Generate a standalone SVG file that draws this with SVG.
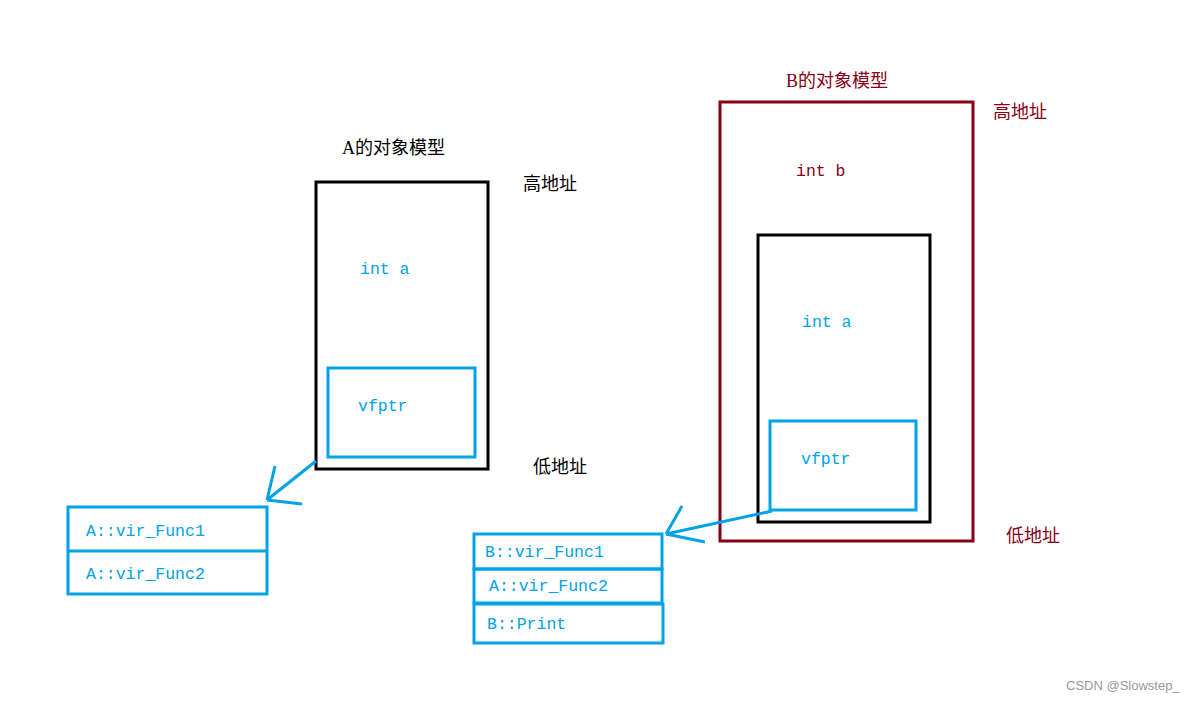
<svg xmlns="http://www.w3.org/2000/svg" width="1204" height="701" viewBox="0 0 1204 701">
<style>
.k{fill:none;stroke:#000;stroke-width:3}
.b{fill:none;stroke:#00a2e8;stroke-width:3}
.r{fill:none;stroke:#880015;stroke-width:3}
.c{font-family:"Liberation Mono",monospace;font-size:16.5px;fill:#00a2e8}
.z{font-family:"Liberation Serif","Noto Sans CJK SC",serif;font-size:18px;fill:#000}
.zr{fill:#880015}
</style>
<rect width="1204" height="701" fill="#fff"/>
<g id="A-object">
<rect class="k" x="316" y="182" width="172" height="287"/>
<text class="z" x="342" y="154">A的对象模型</text>
<text class="z" x="523" y="190">高地址</text>
<text class="z" x="533" y="473">低地址</text>
<text class="c" x="360" y="274">int a</text>
</g>
<g id="A-vfptr">
<rect class="b" x="328" y="368" width="147" height="89"/>
<text class="c" x="358" y="411">vfptr</text>
</g>
<g id="A-vtable">
<rect class="b" x="68" y="507" width="199" height="87"/>
<line class="b" x1="68" y1="551" x2="268" y2="551"/>
<text class="c" x="86" y="536">A::vir_Func1</text>
<text class="c" x="86" y="579">A::vir_Func2</text>
</g>
<g id="B-object">
<rect class="r" x="720" y="102" width="253" height="439"/>
<text class="z zr" x="786" y="87">B的对象模型</text>
<text class="z zr" x="993" y="118">高地址</text>
<text class="z zr" x="1006" y="542">低地址</text>
<text class="c" style="fill:#880015" x="796" y="176">int b</text>
</g>
<g id="B-A-subobject">
<rect class="k" x="758" y="235" width="172" height="287"/>
<text class="c" x="802" y="327">int a</text>
</g>
<g id="B-vfptr">
<rect class="b" x="770" y="421" width="146" height="89"/>
<text class="c" x="801" y="464">vfptr</text>
</g>
<g id="B-vtable">
<rect class="b" x="474" y="534" width="188" height="35"/>
<rect class="b" x="474" y="569" width="188" height="34"/>
<rect class="b" x="474" y="604" width="189" height="39"/>
<text class="c" x="485" y="557">B::vir_Func1</text>
<text class="c" x="489" y="591">A::vir_Func2</text>
<text class="c" x="487" y="629">B::Print</text>
</g>
<g id="connectors">
<line class="b" x1="316" y1="461" x2="267" y2="500"/>
<line class="b" x1="267" y1="500" x2="275" y2="466"/>
<line class="b" x1="267" y1="500" x2="302" y2="504"/>
<line class="b" x1="772" y1="511" x2="666" y2="534"/>
<line class="b" x1="666" y1="534" x2="682" y2="506"/>
<line class="b" x1="666" y1="534" x2="705" y2="542"/>
</g>
<text x="1066" y="690" style="font-family:'Liberation Sans',sans-serif;font-size:13px;fill:#999">CSDN @Slowstep_</text>
</svg>
